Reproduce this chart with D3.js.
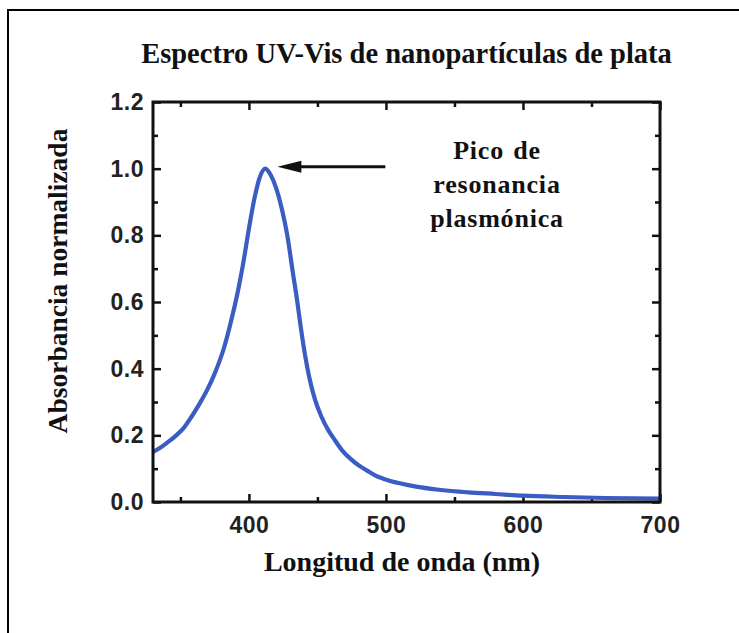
<!DOCTYPE html>
<html>
<head>
<meta charset="utf-8">
<script src="https://cdn.jsdelivr.net/npm/d3@7/dist/d3.min.js"></script>
<style>
  body { margin: 0; background: #fff; }
  svg { display: block; }
  .tick text { font-family: "Liberation Sans", Arial, sans-serif; font-weight: bold; font-size: 23px; letter-spacing: 0.5px; fill: #222; }
  .serif { font-family: "Liberation Serif", "Times New Roman", serif; font-weight: bold; fill: #111; }
</style>
</head>
<body>
<div id="chart"></div>
<script>
// spectrum
var wavelength = [330, 335, 340, 347, 352, 358, 364, 370, 375, 382, 388, 392, 396, 400, 404, 408, 412, 416, 420, 424, 428, 432, 435, 438, 441, 444, 448, 453, 458, 462, 468, 474, 480, 486, 492, 498, 510, 522, 540, 560, 580, 600, 630, 660, 700];
var absorbance = [0.15, 0.162, 0.177, 0.2, 0.22, 0.255, 0.295, 0.34, 0.385, 0.465, 0.56, 0.633, 0.72, 0.82, 0.91, 0.975, 1.00, 0.98, 0.94, 0.88, 0.80, 0.69, 0.61, 0.52, 0.44, 0.375, 0.31, 0.255, 0.215, 0.19, 0.155, 0.13, 0.11, 0.095, 0.08, 0.07, 0.056, 0.046, 0.036, 0.029, 0.024, 0.019, 0.015, 0.012, 0.01];

var xMajor = [400, 500, 600, 700];
var xMinor = [350, 450, 550, 650];
var yMajor = [0.0, 0.2, 0.4, 0.6, 0.8, 1.0, 1.2];
var yMinor = [0.1, 0.3, 0.5, 0.7, 0.9, 1.1];

var titleText = 'Espectro UV-Vis de nanopartículas de plata';
var xLabel = 'Longitud de onda (nm)';
var yLabel = 'Absorbancia normalizada';
var noteLines = ['Pico de', 'resonancia', 'plasmónica'];
var peakAt = [412, 1.0];

var W = 739, H = 633;
var pLeft = 153, pRight = 660, pTop = 102, pBottom = 502;

var svg = d3.select('#chart').append('svg').attr('width', W).attr('height', H);

// outer frame (only left and top edges fall inside the picture)
svg.append('rect')
  .attr('x', 8).attr('y', 10).attr('width', 900).attr('height', 900)
  .attr('fill', 'none').attr('stroke', '#000').attr('stroke-width', 2);

var x = d3.scaleLinear().domain([330, 700]).range([pLeft, pRight]);
var y = d3.scaleLinear().domain([0, 1.2]).range([pBottom, pTop]);

// ticks point inward on all four sides
function addAxis(axisFn, scale, vals, size, pos, labels, pad) {
  var g = svg.append('g').attr('transform', pos)
    .call(axisFn(scale).tickValues(vals).tickSize(-size).tickPadding(pad || 10)
      .tickFormat(labels ? labels : ''));
  g.select('.domain').remove();
  g.selectAll('.tick line').attr('stroke', '#111').attr('stroke-width', 2.5);
  return g;
}

addAxis(d3.axisBottom, x, xMajor, 8, 'translate(0,' + pBottom + ')', d3.format('d'), 15);
addAxis(d3.axisBottom, x, xMinor, 5, 'translate(0,' + pBottom + ')', null);
addAxis(d3.axisTop, x, xMajor, 8, 'translate(0,' + pTop + ')', null);
addAxis(d3.axisTop, x, xMinor, 5, 'translate(0,' + pTop + ')', null);
addAxis(d3.axisLeft, y, yMajor, 8, 'translate(' + pLeft + ',0)', d3.format('.1f'), 9);
addAxis(d3.axisLeft, y, yMinor, 5, 'translate(' + pLeft + ',0)', null);
addAxis(d3.axisRight, y, yMajor, 8, 'translate(' + pRight + ',0)', null);
addAxis(d3.axisRight, y, yMinor, 5, 'translate(' + pRight + ',0)', null);

// spectrum curve
var line = d3.line()
  .x(function (d, i) { return x(wavelength[i]); })
  .y(function (d) { return y(d); })
  .curve(d3.curveMonotoneX);

svg.append('path')
  .datum(absorbance)
  .attr('d', line)
  .attr('fill', 'none')
  .attr('stroke', '#3b5cc2')
  .attr('stroke-width', 4.2)
  .attr('stroke-linejoin', 'round');

// plot box
svg.append('rect')
  .attr('x', pLeft).attr('y', pTop)
  .attr('width', pRight - pLeft).attr('height', pBottom - pTop)
  .attr('fill', 'none').attr('stroke', '#111').attr('stroke-width', 3);

// arrow to the peak
var px = x(peakAt[0]) + 12, py = y(peakAt[1]) - 2;
svg.append('line')
  .attr('x1', px + 108).attr('y1', py)
  .attr('x2', px + 10).attr('y2', py)
  .attr('stroke', '#111').attr('stroke-width', 3);
svg.append('path')
  .attr('d', 'M' + px + ',' + py + 'l24,-6 l0,12 z')
  .attr('fill', '#111');

svg.selectAll('.note')
  .data(noteLines)
  .enter().append('text')
  .attr('class', 'serif note')
  .attr('x', 497)
  .attr('y', function (d, i) { return 159 + i * 34; })
  .attr('text-anchor', 'middle')
  .attr('font-size', 26)
  .attr('letter-spacing', 0.8)
  .attr('word-spacing', 2)
  .text(function (d) { return d; });

// titles
svg.append('text')
  .attr('class', 'serif')
  .attr('x', (pLeft + pRight) / 2).attr('y', 63)
  .attr('text-anchor', 'middle')
  .attr('font-size', 28.5)
  .text(titleText);

svg.append('text')
  .attr('class', 'serif')
  .attr('x', 402).attr('y', 571)
  .attr('text-anchor', 'middle')
  .attr('font-size', 28)
  .text(xLabel);

svg.append('text')
  .attr('class', 'serif')
  .attr('transform', 'translate(67,281) rotate(-90)')
  .attr('text-anchor', 'middle')
  .attr('font-size', 27.5)
  .text(yLabel);
</script>
</body>
</html>
